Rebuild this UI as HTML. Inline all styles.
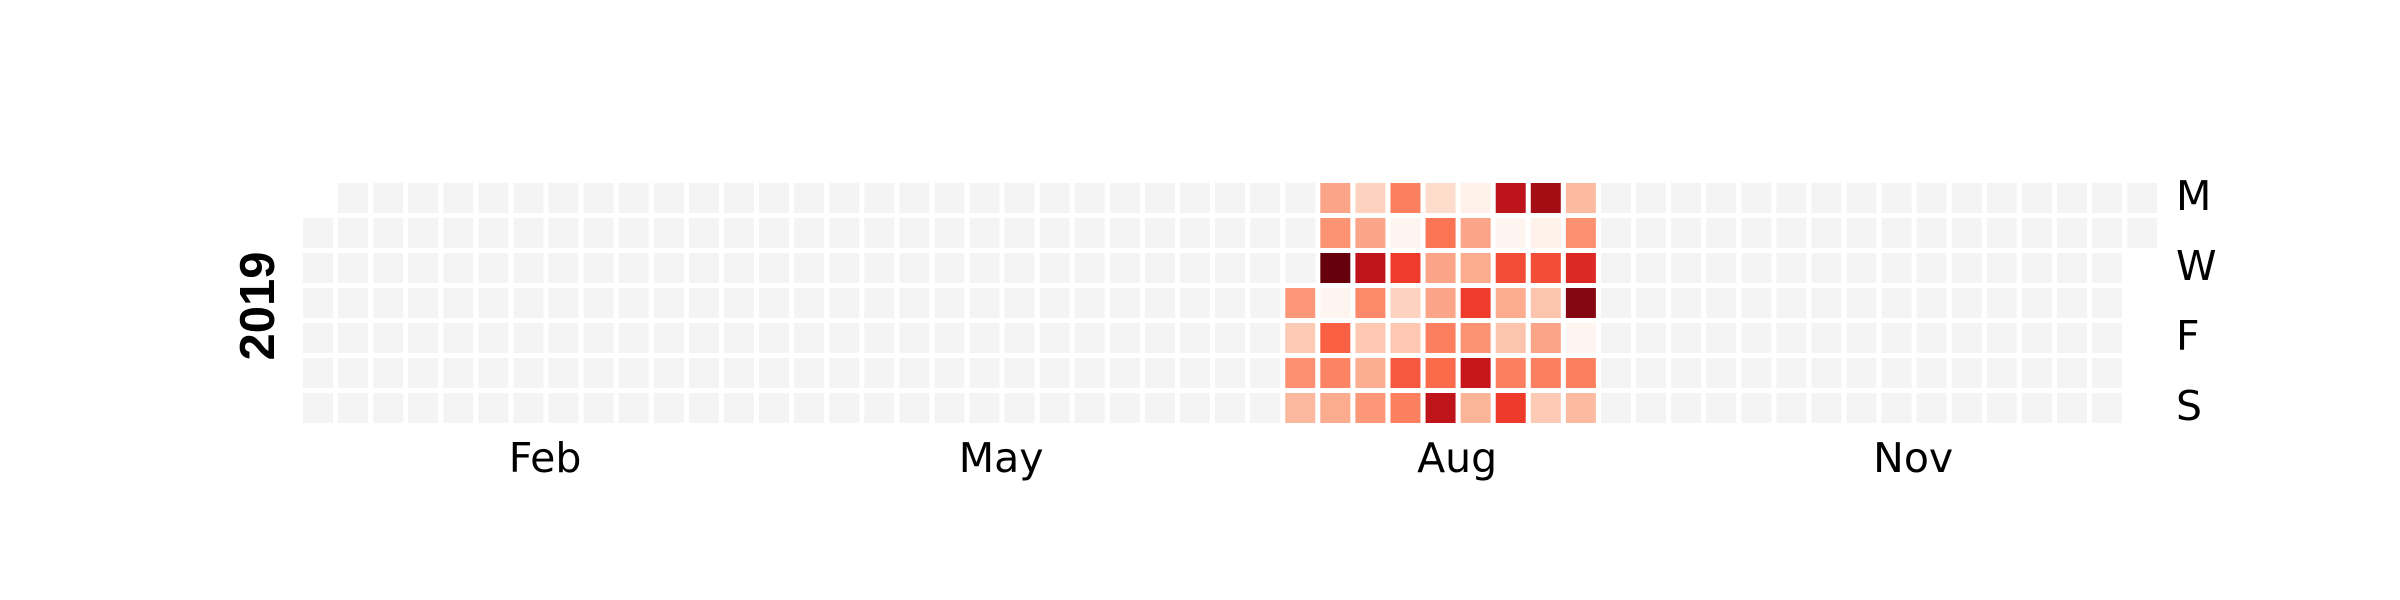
<!DOCTYPE html>
<html><head><meta charset="utf-8"><style>
html,body{margin:0;padding:0;background:#fff;}
svg{display:block;}
text{font-family:"DejaVu Sans","Liberation Sans",sans-serif;}
</style></head><body>
<svg id="chart" width="2400" height="600" viewBox="0 0 2400 600" xmlns="http://www.w3.org/2000/svg">
<g id="cells"></g>
<text x="0" y="0" transform="translate(274,306) rotate(-90)" text-anchor="middle" font-size="49" font-weight="bold" style="font-family:'Liberation Sans',sans-serif">2019</text>
<g id="xlabels"></g>
<g id="ylabels"></g>
</svg>
<script>
const year = 2019;
const startDay = 198; // zero-based day of year of first data value (Jul 18)
const values = [
 .36,.2,.38,.26,
 .32,.37,1,0,.53,.42,.3,
 .17,.32,.79,.40,.21,.29,.36,
 .43,0,.625,.17,.21,.55,.43,
 .14,.47,.32,.32,.43,.5,.79,
 .02,.32,.3,.625,.37,.76,.27,
 .8,0,.58,.3,.22,.43,.63,
 .88,.02,.58,.22,.32,.43,.2,
 .25,.38,.69,.94,0,.43,.25
];
const monthLabels = ["Feb","May","Aug","Nov"];
const monthCols = [6.9,19.9,32.9,45.9];
const dayLabels = ["M","W","F","S"];
const dayRows = [0,2,4,6];

const x0 = 303, y0 = 183, pitch = 35.08, size = 30;
const xCol = c => x0 + c*pitch;
const yRow = r => y0 + r*35;
const stops = ["#fff5f0","#fee0d2","#fcbba1","#fc9272","#fb6a4a","#ef3b2c","#cb181d","#a50f15","#67000d"];
function hex(h){return [1,3,5].map(i=>parseInt(h.substr(i,2),16));}
function reds(v){
  v=Math.max(0,Math.min(1,v));
  const t=v*8, i=Math.min(7,Math.floor(t)), f=t-i;
  const a=hex(stops[i]), b=hex(stops[i+1]);
  return "rgb("+a.map((x,k)=>Math.round(x+(b[k]-x)*f)).join(",")+")";
}
const NS="http://www.w3.org/2000/svg";
const cells=document.getElementById("cells");
const jan1=new Date(year,0,1);
const offset=(jan1.getDay()+6)%7; // Monday=0
const nDays=365;
for(let d=0; d<nDays; d++){
  const idx=d+offset, col=Math.floor(idx/7), row=idx%7;
  const r=document.createElementNS(NS,"rect");
  
  
  r.setAttribute("x",xCol(col)); r.setAttribute("y",yRow(row));
  r.setAttribute("width",size); r.setAttribute("height",size);
  const vi=d-startDay;
  r.setAttribute("fill",(vi>=0&&vi<values.length)?reds(values[vi]):"#f4f4f4");
  cells.appendChild(r);
}
const xl=document.getElementById("xlabels");
monthLabels.forEach((m,i)=>{
  const t=document.createElementNS(NS,"text");
  
  
  t.setAttribute("x",xCol(monthCols[i])); t.setAttribute("y",472);
  t.setAttribute("text-anchor","middle"); t.setAttribute("font-size","41");
  t.textContent=m; xl.appendChild(t);
});
const yl=document.getElementById("ylabels");
dayLabels.forEach((m,i)=>{
  const t=document.createElementNS(NS,"text");
  
  
  t.setAttribute("x",2176); t.setAttribute("y",yRow(dayRows[i])+27);
  t.setAttribute("font-size","41");
  t.textContent=m; yl.appendChild(t);
});
</script>
</body></html>
